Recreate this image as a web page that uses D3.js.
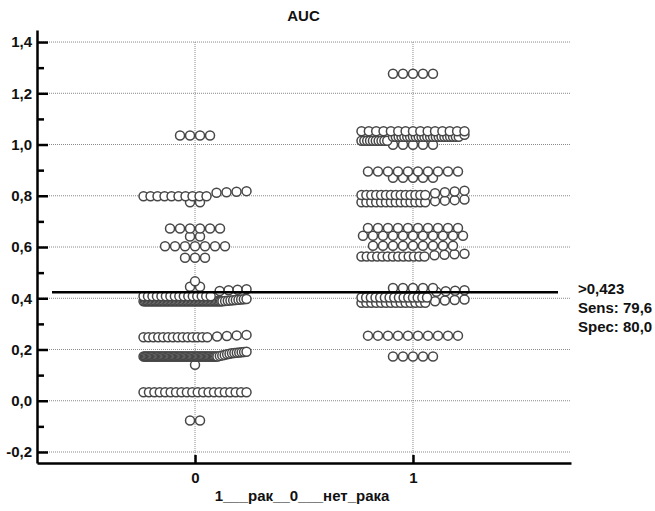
<!DOCTYPE html>
<html>
<head>
<meta charset="utf-8">
<script src="https://cdn.jsdelivr.net/npm/d3@7"></script>
<style>
  body { margin: 0; background: #fff; }
  svg text { font-family: "Liberation Sans", Arial, sans-serif; fill: #111; }
</style>
</head>
<body>
<div id="chart"></div>
<script>
// x categories and axis ticks
const categories = [0, 1];
const yTicks = [-0.2, 0, 0.2, 0.4, 0.6, 0.8, 1.0, 1.2, 1.4];
const yMinorTicks = [-0.1, 0.1, 0.3, 0.5, 0.7, 0.9, 1.1, 1.3];

// dot rows per group, as [value, count] pairs from left to right
const group0Rows = [
    [[-0.077, 2]],
    [[0.033, 20]],
    [[0.14, 1]],
    [[0.173, 62], [0.175, 1], [0.177, 1], [0.179, 1], [0.181, 1], [0.183, 1], [0.185, 1], [0.186, 1], [0.187, 1], [0.188, 1], [0.189, 1], [0.19, 1], [0.191, 1]],
    [[0.248, 14], [0.251, 1], [0.253, 1], [0.255, 1], [0.257, 1]],
    [[0.388, 60], [0.389, 1], [0.39, 1], [0.391, 1], [0.392, 1], [0.393, 1], [0.394, 1], [0.395, 1], [0.396, 1], [0.397, 1]],
    [[0.408, 16], [0.428, 1], [0.431, 1], [0.433, 1], [0.435, 1]],
    [[0.445, 2]],
    [[0.466, 1]],
    [[0.558, 3]],
    [[0.603, 7]],
    [[0.641, 2]],
    [[0.672, 6]],
    [[0.775, 2]],
    [[0.798, 10], [0.812, 1], [0.814, 1], [0.816, 1], [0.818, 1]],
    [[1.035, 4]]
];

const group1Rows = [
    [[0.173, 5]],
    [[0.254, 10]],
    [[0.382, 14], [0.388, 1], [0.391, 1], [0.393, 1], [0.395, 1]],
    [[0.403, 15], [0.425, 1], [0.427, 1], [0.429, 1], [0.431, 1]],
    [[0.44, 5]],
    [[0.563, 13], [0.568, 1], [0.57, 1], [0.572, 1], [0.574, 1]],
    [[0.605, 9]],
    [[0.644, 11]],
    [[0.674, 10]],
    [[0.775, 14], [0.779, 1], [0.781, 1], [0.783, 1], [0.785, 1]],
    [[0.803, 14], [0.81, 1], [0.814, 1], [0.817, 1], [0.82, 1]],
    [[0.87, 5]],
    [[0.895, 10]],
    [[0.999, 5]],
    [[1.015, 10], [1.03, 24], [1.038, 1]],
    [[1.052, 15]],
    [[1.276, 5]]
];

const cutoff = 0.423;
const cutoffLabels = [">0,423", "Sens: 79,6", "Spec: 80,0"];
const chartTitle = "AUC";
const xTitle = "1___рак__0___нет_рака";

const width = 655, height = 511;
const dotR = 4.5, maxSpan = 103, tieWeight = 0.5;

const fmt = d3.formatLocale({ decimal: ",", thousands: ".", grouping: [3], currency: ["", ""], minus: "-" }).format(".1f");

const svg = d3.select("#chart").append("svg")
    .attr("width", width)
    .attr("height", height);

const x = d3.scaleLinear().domain([-0.725, 1.725]).range([37, 571]);
const y = d3.scaleLinear().domain([-0.243, 1.447]).range([463, 30]);

// grid
svg.append("g").selectAll("line")
    .data(yTicks)
    .join("line")
    .attr("x1", x.range()[0]).attr("x2", x.range()[1])
    .attr("y1", d => y(d)).attr("y2", d => y(d))
    .attr("stroke", "#8a8a8a").attr("stroke-width", 1)
    .attr("stroke-dasharray", "1,1");

svg.append("g").selectAll("line")
    .data(categories)
    .join("line")
    .attr("x1", d => x(d)).attr("x2", d => x(d))
    .attr("y1", y(1.4)).attr("y2", y.range()[0])
    .attr("stroke", "#8a8a8a").attr("stroke-width", 1)
    .attr("stroke-dasharray", "1,1");

// spread the values of one row sideways around the category
function layoutRow(pairs, cx) {
    const vals = [];
    pairs.forEach(([v, n]) => { for (let i = 0; i < n; i++) vals.push(v); });
    const gaps = vals.slice(1).map((v, i) => v === vals[i]);
    let dStep = 10, dTie = 10;
    if (gaps.length * 10 > maxSpan) {
        const nt = gaps.filter(g => g).length;
        const nd = gaps.length - nt;
        dStep = maxSpan / (nd + nt * tieWeight);
        dTie = dStep * tieWeight;
        if (dStep > 10) { dStep = 10; dTie = (maxSpan - nd * 10) / nt; }
    }
    const pos = [0];
    gaps.forEach((tie, i) => pos.push(pos[i] + (tie ? dTie : dStep)));
    const span = pos[pos.length - 1];
    return vals.map((v, i) => ({ value: v, px: cx + pos[i] - span / 2 }));
}

const points = [];
[group0Rows, group1Rows].forEach((rows, gi) => {
    rows.slice()
        .sort((a, b) => d3.mean(a, p => p[0]) - d3.mean(b, p => p[0]))
        .forEach(row => points.push(...layoutRow(row, x(categories[gi]))));
});

svg.append("g").selectAll("circle")
    .data(points)
    .join("circle")
    .attr("cx", d => d.px)
    .attr("cy", d => y(d.value))
    .attr("r", dotR)
    .attr("fill", "#fff")
    .attr("stroke", "#474747")
    .attr("stroke-width", 1.5);

// axes
svg.append("g")
    .attr("transform", `translate(${x.range()[0]},0)`)
    .call(d3.axisLeft(y).tickValues(yTicks).tickFormat(fmt).tickSizeInner(-11).tickSizeOuter(0).tickPadding(5));

svg.append("g")
    .attr("transform", `translate(${x.range()[0]},0)`)
    .call(d3.axisLeft(y).tickValues(yMinorTicks).tickFormat("").tickSizeInner(-7).tickSizeOuter(0))
    .call(g => g.select(".domain").remove());

svg.append("g")
    .attr("transform", `translate(0,${y.range()[0]})`)
    .call(d3.axisBottom(x).tickValues(categories).tickFormat(d3.format("d")).tickSizeInner(-8).tickSizeOuter(0).tickPadding(9));

svg.selectAll(".domain").attr("stroke", "#000").attr("stroke-width", 2.5);
svg.selectAll(".tick line").attr("stroke", "#000").attr("stroke-width", 2.5);
svg.selectAll(".tick text")
    .attr("font-size", 15)
    .attr("font-weight", "bold")
    .attr("fill", "#111");

// cutoff line and labels
svg.append("line")
    .attr("x1", 52).attr("x2", 558)
    .attr("y1", y(cutoff)).attr("y2", y(cutoff))
    .attr("stroke", "#000").attr("stroke-width", 2.5);

svg.append("g").selectAll("text")
    .data(cutoffLabels)
    .join("text")
    .attr("x", 578)
    .attr("y", (d, i) => y(cutoff) + 2 + i * 19)
    .attr("font-size", 15)
    .attr("font-weight", "bold")
    .text(d => d);

svg.append("text")
    .attr("x", 303.5).attr("y", 20.5)
    .attr("text-anchor", "middle")
    .attr("font-size", 15).attr("font-weight", "bold")
    .text(chartTitle);

svg.append("text")
    .attr("x", 302).attr("y", 501)
    .attr("text-anchor", "middle")
    .attr("font-size", 15).attr("font-weight", "bold")
    .text(xTitle);
</script>
</body>
</html>
